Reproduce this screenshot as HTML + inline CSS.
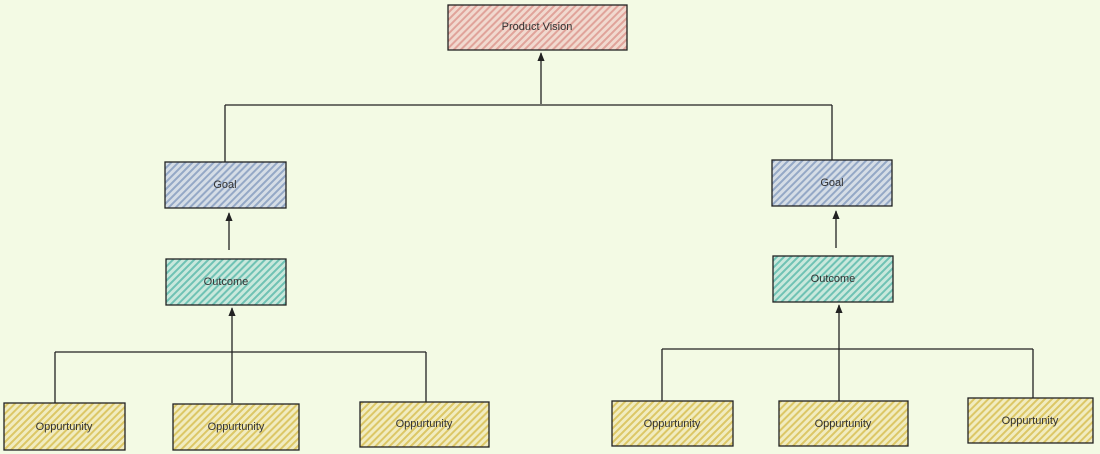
<!DOCTYPE html>
<html><head><meta charset="utf-8"><style>
html,body{margin:0;padding:0;background:#f3fae4;}
svg{display:block}
text{font-family:"Liberation Sans",sans-serif;font-size:11px;fill:#333;text-anchor:middle;dominant-baseline:middle}
</style></head><body>
<svg width="1100" height="454" viewBox="0 0 1100 454" xmlns="http://www.w3.org/2000/svg">
<defs>
<pattern id="r" width="5" height="5" patternUnits="userSpaceOnUse" patternTransform="rotate(45)"><rect width="5" height="5" fill="#f1d9cf"/><rect width="2" height="5" fill="#e0a39a"/></pattern>
<pattern id="b" width="5" height="5" patternUnits="userSpaceOnUse" patternTransform="rotate(45)"><rect width="5" height="5" fill="#d5dde6"/><rect width="2" height="5" fill="#94a8c6"/></pattern>
<pattern id="t" width="5" height="5" patternUnits="userSpaceOnUse" patternTransform="rotate(45)"><rect width="5" height="5" fill="#c9e8dc"/><rect width="2" height="5" fill="#6fc2b4"/></pattern>
<pattern id="y" width="5" height="5" patternUnits="userSpaceOnUse" patternTransform="rotate(45)"><rect width="5" height="5" fill="#f1ecc0"/><rect width="2" height="5" fill="#dcc766"/></pattern>
<marker id="a" viewBox="0 0 10 10" refX="9" refY="5" markerWidth="7" markerHeight="7" orient="auto"><path d="M0,1 L10,5 L0,9 z" fill="#222"/></marker>
</defs>
<g stroke="#222" stroke-width="1.3" fill="none">
<path d="M541,104 L541,53" marker-end="url(#a)"/>
<path d="M225,105 L832,105 M225,105 L225,162 M832,105 L832,160"/>
<path d="M229,250 L229,213" marker-end="url(#a)"/>
<path d="M836,248 L836,211" marker-end="url(#a)"/>
<path d="M55,352 L426,352 M55,352 L55,403 M426,352 L426,402"/>
<path d="M232,403 L232,308" marker-end="url(#a)"/>
<path d="M662,349 L1033,349 M662,349 L662,401 M1033,349 L1033,398"/>
<path d="M839,401 L839,305" marker-end="url(#a)"/>
</g>
<g stroke="#222" stroke-width="1.3">
<rect x="448" y="5" width="179" height="45" fill="url(#r)"/>
<rect x="165" y="162" width="121" height="46" fill="url(#b)"/>
<rect x="772" y="160" width="120" height="46" fill="url(#b)"/>
<rect x="166" y="259" width="120" height="46" fill="url(#t)"/>
<rect x="773" y="256" width="120" height="46" fill="url(#t)"/>
<rect x="4" y="403" width="121" height="47" fill="url(#y)"/>
<rect x="173" y="404" width="126" height="46" fill="url(#y)"/>
<rect x="360" y="402" width="129" height="45" fill="url(#y)"/>
<rect x="612" y="401" width="121" height="45" fill="url(#y)"/>
<rect x="779" y="401" width="129" height="45" fill="url(#y)"/>
<rect x="968" y="398" width="125" height="45" fill="url(#y)"/>
</g>
<text x="537" y="27">Product Vision</text>
<text x="225" y="185">Goal</text>
<text x="832" y="183">Goal</text>
<text x="226" y="282">Outcome</text>
<text x="833" y="279">Outcome</text>
<text x="64" y="427">Oppurtunity</text>
<text x="236" y="427">Oppurtunity</text>
<text x="424" y="424">Oppurtunity</text>
<text x="672" y="424">Oppurtunity</text>
<text x="843" y="424">Oppurtunity</text>
<text x="1030" y="421">Oppurtunity</text>
</svg>
</body></html>
